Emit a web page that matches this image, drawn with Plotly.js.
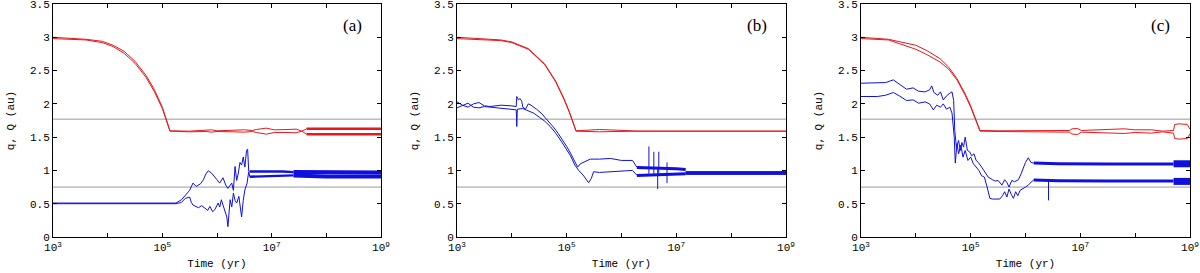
<!DOCTYPE html>
<html><head><meta charset="utf-8">
<script src="https://cdn.plot.ly/plotly-3.0.1.min.js"></script>
<style>html,body{margin:0;padding:0;background:#fff}#chart{width:1200px;height:273px}</style>
</head><body><div id="chart"></div>
<script>
// ---- shared ----
const refLevels = [1.77, 0.75];
const xRangeExp = [3, 9];
const xTickExp = [3, 5, 7, 9];
const xMinorExp = [4, 6, 8];
const xTickText = ['10<sup>3</sup>', '10<sup>5</sup>', '10<sup>7</sup>', '10<sup>9</sup>'];
const yTickVals = [0, 0.5, 1, 1.5, 2, 2.5, 3, 3.5];
const yTickText = ['0', '0.5', '1', '1.5', '2', '2.5', '3', '3.5'];
const panelLabels = ['(a)', '(b)', '(c)'];
// all times below are log10(time / yr)

// ---- panel (a) ----
const aQ1Exp = [3.0,3.3,3.6,3.9,4.1,4.3,4.5,4.7,4.85,5.0,5.1,5.14,5.5,5.8,5.9,6.0,6.3,6.5,6.65,6.72,6.9,7.05,7.3,7.45,7.55,7.64,9.0];
const aQ1 = [3.00,2.99,2.97,2.94,2.88,2.79,2.64,2.43,2.22,1.95,1.72,1.595,1.59,1.60,1.61,1.595,1.60,1.61,1.60,1.615,1.635,1.61,1.615,1.62,1.59,1.625,1.625];
const aQ2 = [2.98,2.975,2.96,2.92,2.86,2.76,2.61,2.40,2.19,1.93,1.70,1.59,1.58,1.585,1.575,1.585,1.58,1.575,1.585,1.57,1.545,1.57,1.57,1.565,1.59,1.545,1.545];
const aQBandExp = [7.64, 9.0];
const aQBandHi = [1.625, 1.625];
const aQBandLo = [1.545, 1.545];
const aq1Exp = [3.0,3.5,4.0,4.5,4.8,5.0,5.25,5.35,5.42,5.5,5.56,5.62,5.7,5.75,5.8,5.84,5.9,5.96,6.0,6.05,6.11,6.16,6.2,6.27,6.3,6.33,6.36,6.39,6.42,6.45,6.48,6.51,6.54,6.56,6.58,6.6];
const aq1 = [0.51,0.51,0.505,0.51,0.505,0.51,0.51,0.56,0.62,0.70,0.81,0.76,0.80,0.86,0.95,0.995,0.96,0.89,0.86,0.81,0.89,0.78,0.73,0.81,0.70,1.06,0.85,0.96,1.12,1.08,1.20,1.05,1.30,1.32,0.99,0.985];
const aq2Exp = [3.0,3.5,4.0,4.5,5.0,5.25,5.35,5.42,5.5,5.53,5.56,5.62,5.66,5.72,5.78,5.83,5.87,5.92,5.96,6.02,6.05,6.08,6.11,6.14,6.18,6.2,6.22,6.24,6.27,6.3,6.33,6.36,6.4,6.43,6.45,6.48,6.51,6.55,6.58,6.6];
const aq2 = [0.50,0.50,0.505,0.50,0.505,0.50,0.52,0.58,0.60,0.52,0.48,0.46,0.44,0.47,0.43,0.40,0.46,0.38,0.41,0.51,0.45,0.56,0.48,0.41,0.30,0.155,0.35,0.56,0.45,0.66,0.55,0.51,0.61,0.45,0.30,0.55,0.71,0.81,0.98,0.905];
const aBand1Exp = [6.6, 6.9, 7.2, 7.4];
const aBand1Hi = [0.985, 0.99, 0.985, 0.975];
const aBand1Lo = [0.905, 0.91, 0.915, 0.925];
const aBand2Exp = [7.4, 8.0, 9.0];
const aBand2Hi = [0.975, 0.97, 0.97];
const aBand2Lo = [0.925, 0.91, 0.91];
const aSpikeExp = [];
const aSpikeLo = [];
const aSpikeHi = [];

// ---- panel (b) ----
const bQ1Exp = [3.0,3.5,3.8,4.0,4.3,4.6,4.8,4.95,5.05,5.17,5.4,5.6,5.9,6.3,9.0];
const bQ1 = [3.00,2.98,2.96,2.93,2.83,2.60,2.34,2.08,1.88,1.595,1.61,1.615,1.605,1.59,1.59];
const bQ2 = [2.98,2.965,2.95,2.92,2.82,2.59,2.33,2.07,1.87,1.59,1.585,1.58,1.585,1.59,1.59];
const bQBandExp = [];
const bQBandHi = [];
const bQBandLo = [];
const bq1Exp = [3.0,3.1,3.2,3.3,3.4,3.5,3.6,3.8,4.0,4.08,4.09,4.12,4.15,4.18,4.2,4.25,4.3,4.35,4.45,4.55,4.6,4.7,4.76,4.85,4.95,5.0,5.07,5.15,5.2,5.25,5.3,5.43,5.6,5.8,6.0,6.2,6.28];
const bq1 = [2.03,1.98,1.95,2.0,2.02,1.97,1.96,1.98,1.97,1.96,2.11,2.06,2.08,2.04,1.95,1.92,2.0,1.98,1.92,1.85,1.8,1.71,1.65,1.55,1.43,1.36,1.26,1.13,1.05,1.1,1.12,1.17,1.17,1.18,1.15,1.15,1.05];
const bq2Exp = [3.0,3.1,3.2,3.3,3.4,3.5,3.6,3.8,4.0,4.08,4.09,4.1,4.2,4.3,4.4,4.5,4.6,4.7,4.8,4.9,5.0,5.07,5.15,5.22,5.3,5.37,5.4,5.45,5.49,5.6,5.8,6.0,6.2,6.28];
const bq2 = [1.94,1.98,2.01,1.95,1.94,1.96,1.95,1.93,1.92,1.91,1.66,1.92,1.93,1.89,1.86,1.8,1.74,1.66,1.56,1.44,1.32,1.22,1.08,1.0,0.93,0.86,0.815,0.88,0.98,0.97,0.98,0.99,1.0,0.93];
const bBand1Exp = [6.28, 6.6, 7.0, 7.17];
const bBand1Hi = [1.045, 1.04, 1.025, 1.015];
const bBand1Lo = [0.925, 0.93, 0.94, 0.95];
const bBand2Exp = [7.17, 9.0];
const bBand2Hi = [0.96, 0.96];
const bBand2Lo = [0.96, 0.96];
const bSpikeExp = [6.5, 6.59, 6.66, 6.68, 6.83];
const bSpikeLo = [0.95, 0.95, 0.72, 0.95, 0.81];
const bSpikeHi = [1.36, 1.28, 1.05, 1.28, 1.12];

// ---- panel (c) ----
const cQ1Exp = [3.0,3.5,4.0,4.2,4.44,4.6,4.75,4.9,5.0,5.1,5.17,5.5,6.0,6.5,6.8,6.85,6.95,7.02,7.4,7.6,7.8,8.0,8.3,8.5,8.7,8.72,8.8,8.95,9.0];
const cQ1 = [3.00,2.97,2.88,2.80,2.68,2.55,2.38,2.15,1.97,1.76,1.6,1.595,1.60,1.60,1.60,1.625,1.63,1.60,1.61,1.625,1.625,1.61,1.61,1.59,1.60,1.69,1.70,1.69,1.62];
const cQ2 = [2.98,2.96,2.82,2.74,2.63,2.52,2.36,2.13,1.95,1.74,1.59,1.585,1.58,1.58,1.575,1.545,1.54,1.575,1.565,1.55,1.555,1.57,1.56,1.58,1.56,1.48,1.47,1.48,1.55];
const cQBandExp = [];
const cQBandHi = [];
const cQBandLo = [];
const cq1Exp = [3.0,3.3,3.45,3.59,3.7,3.83,3.95,4.05,4.17,4.25,4.29,4.33,4.4,4.45,4.5,4.56,4.62,4.66,4.69,4.71,4.74,4.78,4.81,4.84,4.87,4.9,4.94,4.98,5.02,5.06,5.1,5.14,5.2,5.26,5.32,5.4,5.45,5.5,5.57,5.62,5.66,5.7,5.75,5.8,5.87,5.92,5.96,6.0,6.05,6.1,6.15];
const cq1 = [2.31,2.31,2.32,2.36,2.30,2.22,2.24,2.19,2.18,2.21,2.27,2.17,2.13,2.18,2.06,2.12,2.16,2.18,2.05,1.6,1.35,1.45,1.3,1.42,1.35,1.5,1.3,1.28,1.22,1.25,1.15,1.12,1.05,0.98,0.9,0.86,0.84,0.85,0.78,0.86,0.82,0.75,0.85,0.83,0.86,0.95,1.05,1.12,1.19,1.12,1.11];
const cq2Exp = [3.0,3.3,3.45,3.59,3.7,3.83,3.95,4.05,4.17,4.25,4.32,4.38,4.45,4.5,4.56,4.62,4.66,4.7,4.72,4.75,4.78,4.82,4.86,4.9,4.95,5.0,5.05,5.1,5.15,5.2,5.25,5.3,5.35,5.4,5.45,5.53,5.58,5.62,5.66,5.7,5.74,5.78,5.82,5.86,5.9,5.95,6.0,6.05,6.1,6.15];
const cq2 = [2.11,2.11,2.13,2.17,2.12,2.05,2.06,2.01,2.03,2.0,1.91,1.98,1.95,2.0,1.92,1.95,1.86,1.5,1.11,1.4,1.25,1.38,1.2,1.3,1.15,1.2,1.1,1.05,1.0,0.92,0.9,0.75,0.58,0.57,0.57,0.57,0.62,0.68,0.6,0.72,0.64,0.58,0.68,0.62,0.7,0.72,0.75,0.78,0.82,0.86];
const cBand1Exp = [6.15, 6.6, 7.5, 8.7];
const cBand1Hi = [1.11, 1.10, 1.095, 1.095];
const cBand1Lo = [0.855, 0.845, 0.84, 0.84];
const cBand2Exp = [8.7, 9.0];
const cBand2Hi = [1.1, 1.1];
const cBand2Lo = [0.835, 0.835];
const cSpikeExp = [6.42];
const cSpikeLo = [0.55];
const cSpikeHi = [0.86];

// ---- build ----
const RED = 'rgb(232,24,28)', BLUE = 'rgb(16,16,222)', GREY = '#9a9a9a';
const FONT = 'Liberation Mono, Courier New, monospace';
const panels = [
  {Q1Exp:aQ1Exp,Q1:aQ1,Q2:aQ2,QBExp:aQBandExp,QBHi:aQBandHi,QBLo:aQBandLo,q1Exp:aq1Exp,q1:aq1,q2Exp:aq2Exp,q2:aq2,
   b1Exp:aBand1Exp,b1Hi:aBand1Hi,b1Lo:aBand1Lo,b2Exp:aBand2Exp,b2Hi:aBand2Hi,b2Lo:aBand2Lo,sExp:aSpikeExp,sLo:aSpikeLo,sHi:aSpikeHi,w1:2.4,w2:4},
  {Q1Exp:bQ1Exp,Q1:bQ1,Q2:bQ2,QBExp:bQBandExp,QBHi:bQBandHi,QBLo:bQBandLo,q1Exp:bq1Exp,q1:bq1,q2Exp:bq2Exp,q2:bq2,
   b1Exp:bBand1Exp,b1Hi:bBand1Hi,b1Lo:bBand1Lo,b2Exp:bBand2Exp,b2Hi:bBand2Hi,b2Lo:bBand2Lo,sExp:bSpikeExp,sLo:bSpikeLo,sHi:bSpikeHi,w1:3,w2:3.5},
  {Q1Exp:cQ1Exp,Q1:cQ1,Q2:cQ2,QBExp:cQBandExp,QBHi:cQBandHi,QBLo:cQBandLo,q1Exp:cq1Exp,q1:cq1,q2Exp:cq2Exp,q2:cq2,
   b1Exp:cBand1Exp,b1Hi:cBand1Hi,b1Lo:cBand1Lo,b2Exp:cBand2Exp,b2Hi:cBand2Hi,b2Lo:cBand2Lo,sExp:cSpikeExp,sLo:cSpikeLo,sHi:cSpikeHi,w1:3,w2:7}
];
const toT = arr => arr.map(e => e === null ? null : Math.pow(10, e));
const traces = [];
panels.forEach((p, i) => {
  const xa = 'x' + (i ? i + 1 : ''), ya = 'y' + (i ? i + 1 : '');
  const add = (xs, ys, color, width) => traces.push({type:'scatter', mode:'lines', x: toT(xs), y: ys,
    xaxis: xa, yaxis: ya, line: {color, width}, hoverinfo: 'skip', showlegend: false});
  refLevels.forEach(v => add(xRangeExp, [v, v], GREY, 1));
  add(p.Q1Exp, p.Q1, RED, 1);
  add(p.Q1Exp, p.Q2, RED, 1);
  if (p.QBExp.length) { add(p.QBExp, p.QBHi, RED, 2.5); add(p.QBExp, p.QBLo, RED, 2.5); }
  add(p.q1Exp, p.q1, BLUE, 1);
  add(p.q2Exp, p.q2, BLUE, 1);
  if (p.sExp.length) {
    const sx = [], sy = [];
    p.sExp.forEach((e, k) => { sx.push(e, e, null); sy.push(p.sLo[k], p.sHi[k], null); });
    add(sx, sy, BLUE, 1);
  }
  add(p.b1Exp, p.b1Hi, BLUE, p.w1); add(p.b1Exp, p.b1Lo, BLUE, p.w1);
  add(p.b2Exp, p.b2Hi, BLUE, p.w2); add(p.b2Exp, p.b2Lo, BLUE, p.w2);
});

const xDomains = [[53/1200, 381/1200], [457/1200, 786/1200], [861/1200, 1190/1200]];
const layout = {
  width: 1200, height: 273, margin: {l: 0, r: 0, t: 4, b: 36},
  paper_bgcolor: '#fff', plot_bgcolor: '#fff', showlegend: false, hovermode: false,
  annotations: []
};
xDomains.forEach((d, i) => {
  const k = i ? i + 1 : '';
  layout['xaxis' + k] = {
    type: 'log', domain: d, range: xRangeExp, anchor: 'y' + k,
    tickmode: 'array', tickvals: toT(xTickExp), ticktext: xTickText,
    minor: {tickmode: 'array', tickvals: toT(xMinorExp), ticks: 'inside', ticklen: 4, tickcolor: '#000', showgrid: false},
    ticks: 'inside', ticklen: 4, tickcolor: '#000', mirror: 'ticks', showline: true, linecolor: '#000', linewidth: 1,
    showgrid: false, zeroline: false, tickfont: {family: FONT, size: 11, color: '#000'},
    ticklabeloverflow: 'allow',
    title: {text: 'Time (yr)', font: {family: FONT, size: 11, color: '#000'}, standoff: 6}
  };
  layout['yaxis' + k] = {
    domain: [0, 1], range: [0, 3.5], anchor: 'x' + k,
    tickmode: 'array', tickvals: yTickVals, ticktext: yTickText,
    ticks: 'inside', ticklen: 4, tickcolor: '#000', mirror: 'ticks', showline: true, linecolor: '#000', linewidth: 1,
    showgrid: false, zeroline: false, tickfont: {family: FONT, size: 11, color: '#000'},
    ticklabeloverflow: 'allow',
    title: {text: 'q, Q (au)', font: {family: FONT, size: 11, color: '#000'}, standoff: 13}
  };
  layout.annotations.push({xref: 'x' + k, yref: 'y' + k, x: 8.47, y: 3.18, text: panelLabels[i], showarrow: false,
    font: {family: 'Liberation Serif, Times New Roman, serif', size: 17, color: '#000'}});
});
Plotly.newPlot('chart', traces, layout, {staticPlot: true, displayModeBar: false});
</script></body></html>
